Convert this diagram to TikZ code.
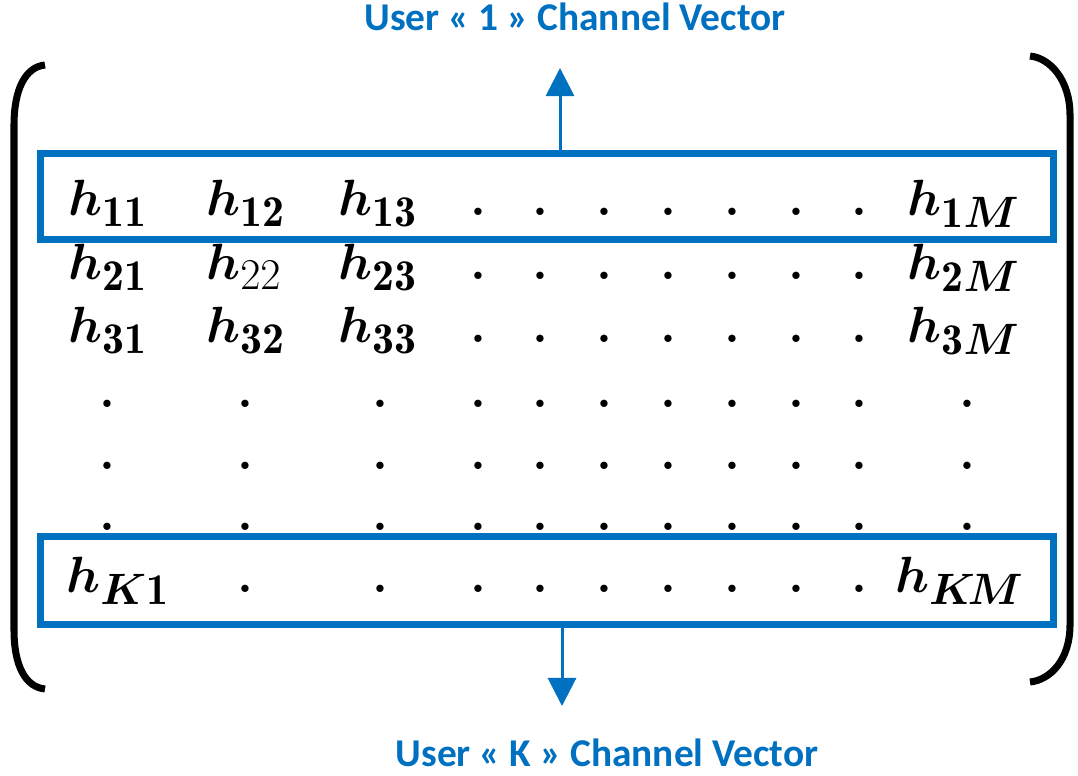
\RequirePackage{fix-cm}
\documentclass[tikz,border=0pt]{standalone}
\usepackage{amsmath}
\usepackage{fontspec}
\newfontfamily\calfont{Carlito}
\usetikzlibrary{arrows.meta}
\DeclareMathSizes{29}{29}{25}{18}
\definecolor{chblue}{HTML}{0070C0}
\tikzset{
  entry/.style={anchor=base west, inner sep=0pt, font=\fontsize{29}{35}\selectfont},
  lastentry/.style={entry, anchor=base east},
  dotc/.style={anchor=base, inner sep=0pt, font=\fontsize{29}{35}\selectfont\bfseries},
  rowbox/.style={draw=chblue, line width=4pt, minimum width=20.26cm, minimum height=1.72cm, inner sep=0pt},
  veclabel/.style={anchor=base, inner sep=0pt, text=chblue, font=\calfont\bfseries\fontsize{22.4}{26}\selectfont},
  vecarrow/.style={draw=chblue, line width=1.7pt, -{Triangle[length=16pt,width=16pt]}},
  paren/.style={line width=4pt}
}

\begin{document}
\begin{tikzpicture}[x=0.02cm, y=-0.02cm]
    \useasboundingbox (0,0) rectangle (1078,775);

    % row boxes
    \path (547,196.5) node [rowbox] (row1) {};
    \path (547,580.5) node [rowbox, minimum height=1.75cm] (rowK) {};

    % labels
    \path (575,30) node [veclabel] (user1) {User « 1 » Channel Vector};
    \path (607,766) node [veclabel] (userK) {User « K » Channel Vector};
    \coordinate (up1) at (560,68);
    \coordinate (downK) at (562,706);
    \draw [vecarrow] (up1 |- row1.north) -- (up1);
    \draw [vecarrow] (downK |- rowK.south) -- (downK);

    % brackets
    \draw [paren] (45,65) .. controls (25,67) and (14,90) .. (14,125)
        -- (14,630) .. controls (14,665) and (25,687) .. (45,689);
    \draw [paren] (1030,56) .. controls (1050,58) and (1070,80) .. (1070,115)
        -- (1070,625) .. controls (1070,660) and (1050,680) .. (1030,682);

    % entries
    \path (68,215) node [entry] (h11) {$\boldsymbol{h}_{\mathbf{11}}$};
    \path (206,215) node [entry] (h12) {$\boldsymbol{h}_{\mathbf{12}}$};
    \path (338,215) node [entry] (h13) {$\boldsymbol{h}_{\mathbf{13}}$};
    \path (1020,215) node [lastentry] (h1M) {$\boldsymbol{h}_{\mathbf{1}\boldsymbol{M}}$};
    \path (68,279) node [entry] (h21) {$\boldsymbol{h}_{\mathbf{21}}$};
    \path (206,279) node [entry] (h22) {$\boldsymbol{h}_{22}$};
    \path (338,279) node [entry] (h23) {$\boldsymbol{h}_{\mathbf{23}}$};
    \path (1020,279) node [lastentry] (h2M) {$\boldsymbol{h}_{\mathbf{2}\boldsymbol{M}}$};
    \path (68,342) node [entry] (h31) {$\boldsymbol{h}_{\mathbf{31}}$};
    \path (206,342) node [entry] (h32) {$\boldsymbol{h}_{\mathbf{32}}$};
    \path (338,342) node [entry] (h33) {$\boldsymbol{h}_{\mathbf{33}}$};
    \path (1020,342) node [lastentry] (h3M) {$\boldsymbol{h}_{\mathbf{3}\boldsymbol{M}}$};
    \path (66,592) node [entry] (hK1) {$\boldsymbol{h}_{\boldsymbol{K}\mathbf{1}}$};
    \path (1024,592) node [lastentry] (hKM) {$\boldsymbol{h}_{\boldsymbol{K}\!\boldsymbol{M}}$};

    % dots
    \foreach \y in {215,279,342,407,469,530,592}
      \foreach \x in {478,540,604,668,732,796,859}
        \path (\x,\y) node [dotc] (d-\x-\y) {.};
    \foreach \y in {407,469,530}
      \foreach \x in {107,245,380,967}
        \path (\x,\y) node [dotc] (d-\x-\y) {.};
    \foreach \x in {245,380}
      \path (\x,592) node [dotc] (d-\x-592) {.};
\end{tikzpicture}
\end{document}
